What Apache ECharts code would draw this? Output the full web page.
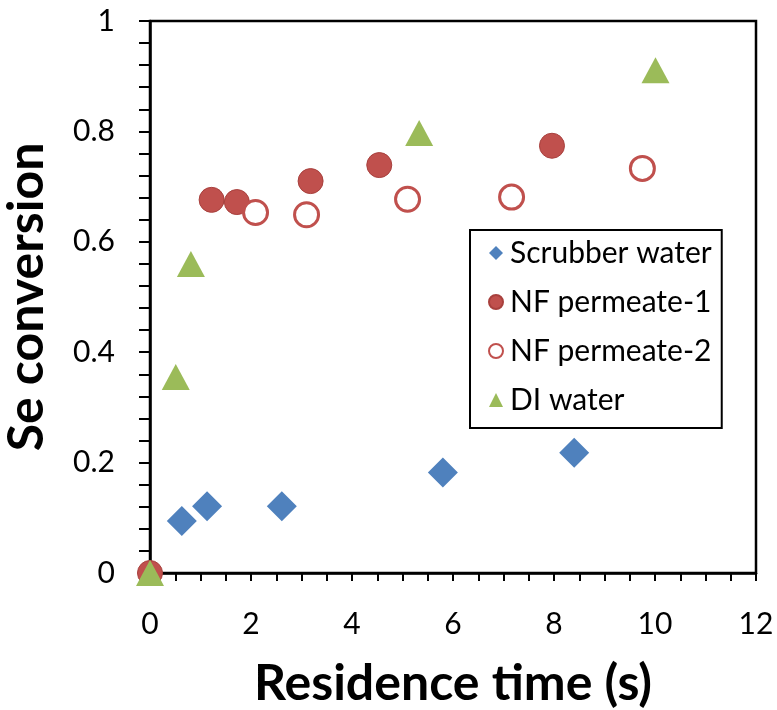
<!DOCTYPE html>
<html><head><meta charset="utf-8">
<script src="https://cdn.jsdelivr.net/npm/echarts@6/dist/echarts.min.js"></script>
<style>html,body{margin:0;padding:0;background:#fff}#c{width:777px;height:710px}</style>
</head><body><div id="c"></div>
<script>
const seriesNames = ['Scrubber water', 'NF permeate-1', 'NF permeate-2', 'DI water'];
const scrubberX = [0.63, 1.13, 2.61, 5.80, 8.40];
const scrubberY = [0.094, 0.121, 0.121, 0.182, 0.218];
const nf1X = [0, 1.22, 1.72, 3.18, 4.54, 7.96];
const nf1Y = [0, 0.676, 0.672, 0.710, 0.739, 0.774];
const nf2X = [2.09, 3.10, 5.10, 7.16, 9.75];
const nf2Y = [0.653, 0.649, 0.677, 0.681, 0.733];
const diX = [0, 0.51, 0.81, 5.33, 10.01];
const diY = [0, 0.355, 0.56, 0.797, 0.911];
const xTicks = {min: 0, max: 12, interval: 2};
const yTicks = {min: 0, max: 1, interval: 0.2};

const pair = (xs, ys) => xs.map((x, i) => [x, ys[i]]);
const FONT = 'Lato';
const chart = echarts.init(document.getElementById('c'), null, {renderer: 'canvas'});
chart.setOption({
  animation: false,
  backgroundColor: '#fff',
  grid: {left: 150, top: 21, right: 21, bottom: 137, containLabel: false, outerBoundsMode: 'none',
         show: true, borderColor: '#000', borderWidth: 2.5, backgroundColor: 'transparent'},
  xAxis: {
    type: 'value', min: xTicks.min, max: xTicks.max, interval: xTicks.interval,
    name: 'Residence time (s)', nameLocation: 'middle', nameGap: 86,
    nameTextStyle: {fontFamily: FONT, fontWeight: 'bold', fontSize: 50, color: '#000'},
    axisLine: {show: true, onZero: false, lineStyle: {color: '#000', width: 2.5}},
    axisTick: {show: true, inside: false, length: 8, lineStyle: {color: '#000', width: 2}},
    minorTick: {show: true, splitNumber: 4, length: 8, lineStyle: {color: '#000', width: 2}},
    splitLine: {show: false},
    axisLabel: {fontFamily: FONT, fontSize: 30, color: '#000', margin: 36}
  },
  yAxis: {
    type: 'value', min: yTicks.min, max: yTicks.max, interval: yTicks.interval,
    name: 'Se conversion', nameLocation: 'middle', nameGap: 98,
    nameTextStyle: {fontFamily: FONT, fontWeight: 'bold', fontSize: 50, color: '#000'},
    axisLine: {show: true, onZero: false, lineStyle: {color: '#000', width: 2.5}},
    axisTick: {show: true, inside: false, length: 11, lineStyle: {color: '#000', width: 2}},
    minorTick: {show: true, splitNumber: 5, length: 11, lineStyle: {color: '#000', width: 2}},
    splitLine: {show: false},
    axisLabel: {fontFamily: FONT, fontSize: 30, color: '#000', margin: 35}
  },
  legend: {
    orient: 'vertical', left: 470, top: 230,
    data: seriesNames,
    backgroundColor: '#fff', borderColor: '#000', borderWidth: 2,
    padding: [6, 10, 11, 18], itemGap: 15, itemWidth: 14, itemHeight: 14,
    textStyle: {fontFamily: FONT, fontSize: 30, color: '#000', lineHeight: 34, padding: [0, 0, 0, 2]}
  },
  series: [
    {name: seriesNames[0], type: 'scatter', symbol: 'diamond', symbolSize: 30, clip: false,
     itemStyle: {color: '#4F81BD', opacity: 1}, data: pair(scrubberX, scrubberY)},
    {name: seriesNames[1], type: 'scatter', symbol: 'circle', symbolSize: 25, clip: false,
     itemStyle: {color: '#C0504D', borderColor: '#A8403D', borderWidth: 1, opacity: 1}, data: pair(nf1X, nf1Y)},
    {name: seriesNames[2], type: 'scatter', symbol: 'circle', symbolSize: 24, clip: false,
     itemStyle: {color: '#fff', borderColor: '#C0504D', borderWidth: 3, opacity: 1}, data: pair(nf2X, nf2Y)},
    {name: seriesNames[3], type: 'scatter', symbol: 'triangle', symbolSize: [28, 26], clip: false,
     itemStyle: {color: '#9BBB59', opacity: 1}, data: pair(diX, diY)}
  ]
});
</script></body></html>
